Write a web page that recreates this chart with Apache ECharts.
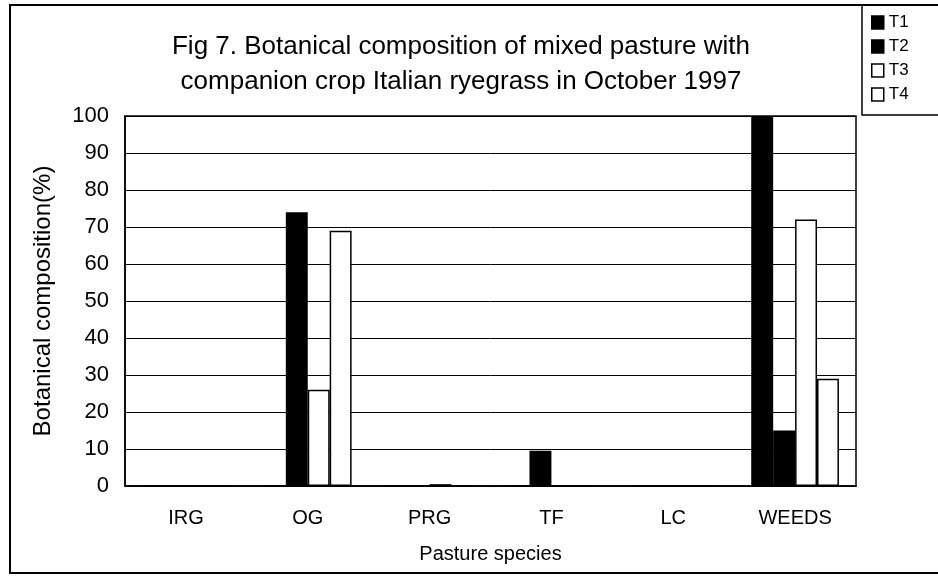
<!DOCTYPE html>
<html><head><meta charset="utf-8">
<script src="https://cdn.jsdelivr.net/npm/echarts@6/dist/echarts.min.js"></script>
<style>html,body{margin:0;padding:0;background:#fff}#c{width:938px;height:576px}</style>
</head><body><div id="c"></div>
<script>
const categories = ['IRG', 'OG', 'PRG', 'TF', 'LC', 'WEEDS'];
const T1 = [0, 0, 0, 0, 0, 100];
const T2 = [0, 74, 0, 9.5, 0, 15];
const T3 = [0, 26, 0.5, 0, 0, 72];
const T4 = [0, 69, 0, 0, 0, 29];
const seriesNames = ['T1', 'T2', 'T3', 'T4'];
const seriesData = [T1, T2, T3, T4];
const seriesFill = ['#000', '#000', '#fff', '#fff'];

const chart = echarts.init(document.getElementById('c'));
const font = 'Liberation Sans, Arial, sans-serif';
chart.setOption({
  animation: false,
  backgroundColor: '#fff',
  title: {
    text: 'Fig 7. Botanical composition of mixed pasture with\ncompanion crop Italian ryegrass in October 1997',
    left: 456, top: 24, textAlign: 'center',
    textStyle: { fontFamily: font, fontSize: 26, fontWeight: 'normal', color: '#000', lineHeight: 35 }
  },
  legend: {
    orient: 'vertical', left: 866, top: 9, itemWidth: 12, itemHeight: 13, itemGap: 7,
    icon: 'rect',
    data: seriesNames,
    textStyle: { fontFamily: font, fontSize: 17, color: '#000', padding: [0,0,0,0] },
    itemStyle: { borderColor: '#000', borderWidth: 1.5 }
  },
  grid: { left: 125, right: 82, top: 116, bottom: 90, show: true, borderColor: '#000', borderWidth: 1.5 },
  xAxis: {
    type: 'category', data: categories,
    name: 'Pasture species', nameLocation: 'middle', nameGap: 58,
    nameTextStyle: { fontFamily: font, fontSize: 20, color: '#000' },
    axisLine: { lineStyle: { color: '#000', width: 1.5 } },
    axisTick: { show: false },
    axisLabel: { fontFamily: font, fontSize: 20, color: '#000', margin: 22 }
  },
  yAxis: {
    type: 'value', min: 0, max: 100, interval: 10,
    name: 'Botanical composition(%)', nameLocation: 'middle', nameGap: 70, nameRotate: 90,
    nameTextStyle: { fontFamily: font, fontSize: 24, color: '#000' },
    axisLine: { show: true, lineStyle: { color: '#000', width: 1.5 } },
    axisTick: { show: false },
    axisLabel: { fontFamily: font, fontSize: 22, color: '#000', margin: 16 },
    splitLine: { lineStyle: { color: '#000', width: 1 } }
  },
  series: seriesNames.map((n, i) => ({
    name: n, type: 'bar', data: seriesData[i],
    barGap: '0%', barCategoryGap: '28%',
    itemStyle: { color: seriesFill[i], borderColor: '#000', borderWidth: 1.5 }
  })),
  graphic: [
    { type: 'rect', shape: { x: 10, y: 5, width: 940, height: 568 }, style: { fill: 'none', stroke: '#000', lineWidth: 2 }, z: 100 },
    { type: 'rect', shape: { x: 862, y: 5, width: 80, height: 110 }, style: { fill: 'none', stroke: '#000', lineWidth: 1.5 }, z: 100 }
  ]
});
</script></body></html>
